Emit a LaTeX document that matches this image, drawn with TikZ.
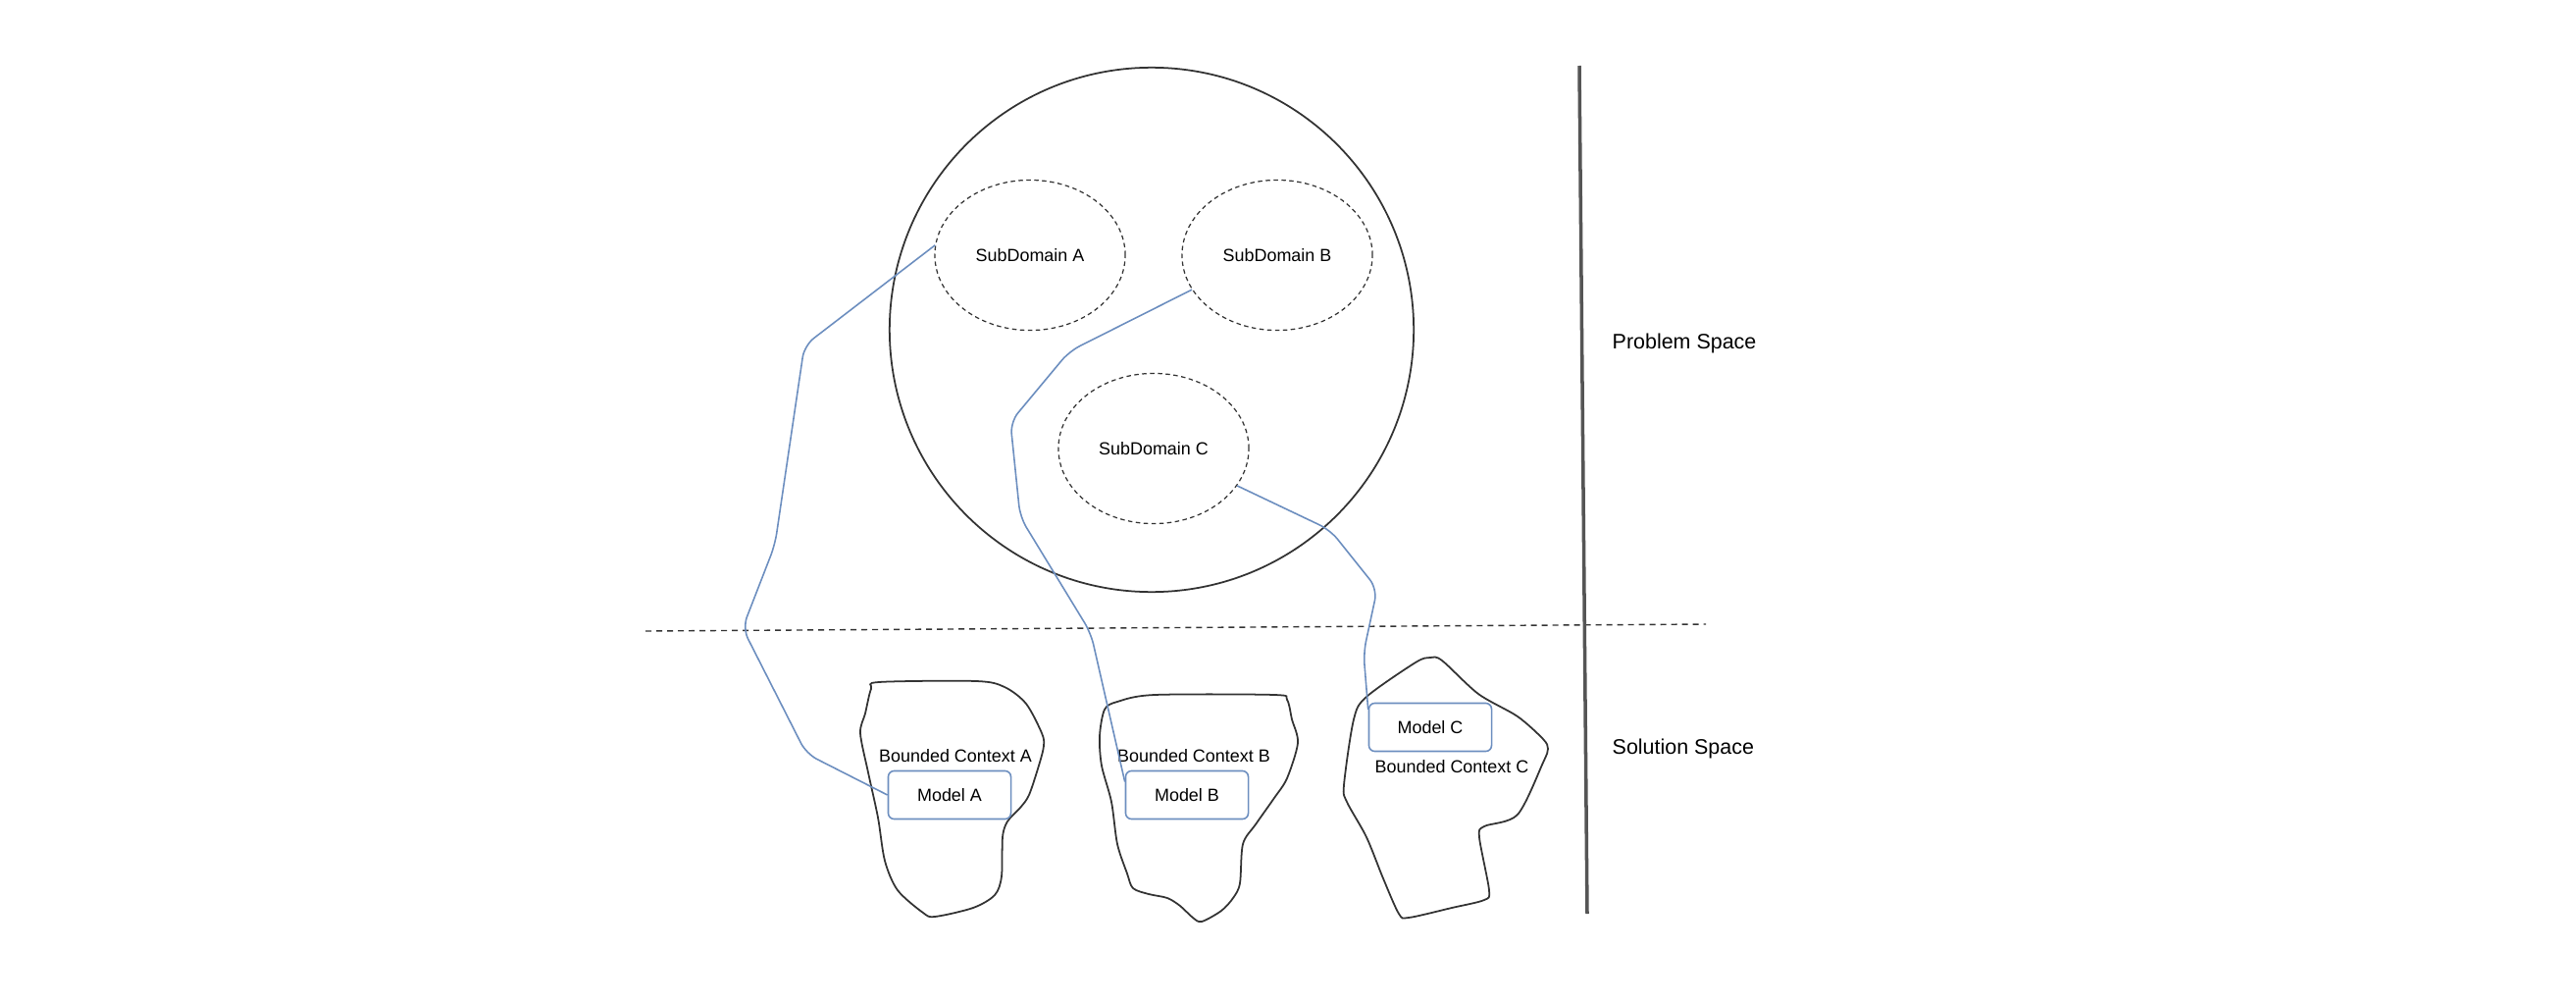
\documentclass[tikz,border=0pt]{standalone}
\usepackage{fontspec}
\setmainfont{Liberation Sans}
\usetikzlibrary{shapes.geometric,positioning,calc}
\definecolor{modblue}{HTML}{6C8EBF}
\definecolor{inkgray}{HTML}{333333}
\definecolor{railgray}{HTML}{555555}
\tikzset{
  subdom/.style={ellipse, draw=inkgray, line width=0.35pt, dash pattern=on 0.045cm off 0.035cm,
                 minimum width=1.94cm, minimum height=1.53cm, inner sep=0pt, font=\fontsize{5.1}{6}\selectfont},
  modelbox/.style={rectangle, rounded corners=0.6mm, draw=modblue, line width=0.45pt,
                   minimum width=1.25cm, minimum height=0.49cm, inner sep=0pt, font=\fontsize{5.1}{6}\selectfont},
  ctx/.style={inner sep=0pt, font=\fontsize{5.1}{6}\selectfont},
  spacelbl/.style={anchor=west, inner sep=0pt, font=\fontsize{6.1}{7}\selectfont},
  blob/.style={draw=inkgray, line width=0.5pt},
  conn/.style={draw=modblue, line width=0.45pt, rounded corners=1.2mm},
}

\begin{document}
\begin{tikzpicture}[x=0.01cm, y=-0.01cm]
    \useasboundingbox (0,0) rectangle (2626,1024);
    % problem space
    \node[circle, draw=inkgray, line width=0.5pt, minimum size=5.34cm] (dom) at (1174,336) {};
    \node[subdom] (sa) at (1050,260) {SubDomain A};
    \node[subdom] (sb) at (1302,260) {SubDomain B};
    \node[subdom] (sc) at (1176,457) {SubDomain C};
    % separators
    \coordinate (hl) at (658,643); \coordinate (hr) at (1739,636);
    \coordinate (vt) at (1610,67); \coordinate (vb) at (1618,931);
    \draw[draw=inkgray, line width=0.4pt, dash pattern=on 0.06cm off 0.05cm] (hl) -- (hr);
    \draw[draw=railgray, line width=1pt] (vt) -- (vb);
    \node[spacelbl] (ps) at (1643,350) {Problem Space};
    \node[spacelbl] (ss) at (1643,763) {Solution Space};
    % bounded contexts
    \draw[blob] plot[smooth cycle, tension=0.5] coordinates {(896,695) (995,694) (1024,700) (1046,717)
      (1062,747) (1064,760) (1059,780) (1049,810) (1040,823) (1027,837) (1022,853) (1021,893) (1014,912)
      (992,925) (953,934) (941,930) (915,907) (902,877) (895,833) (885,787) (877,747) (882,727) (888,702)};
    \draw[blob] plot[smooth cycle, tension=0.5] coordinates {(1139,715) (1177,708) (1299,708) (1312,713)
      (1317,733) (1323,757) (1312,793) (1299,813) (1280,840) (1267,860) (1264,900) (1257,915) (1245,928)
      (1225,939) (1216,935) (1203,923) (1190,915) (1171,911) (1155,905) (1149,890) (1139,860) (1133,817)
      (1123,780) (1121,750) (1126,723)};
    \draw[blob] plot[smooth cycle, tension=0.5] coordinates {(1458,670) (1470,673) (1507,707) (1547,730)
      (1573,753) (1578,763) (1573,777) (1547,830) (1513,842) (1508,853) (1518,907) (1513,917) (1480,925)
      (1436,935) (1426,931) (1410,895) (1393,853) (1373,817) (1370,800) (1380,733) (1393,710) (1443,675)};
    \node[ctx] (bca) at (974,770) {Bounded Context A};
    \node[ctx] (bcb) at (1217,770) {Bounded Context B};
    \node[ctx] (bcc) at (1480,781) {Bounded Context C};
    \node[modelbox] (ma) at (968,810) {Model A};
    \node[modelbox] (mb) at (1210,810) {Model B};
    \node[modelbox] (mc) at (1458,741) {Model C};
    % links subdomain -> model
    \draw[conn] (sa.174) -- (820,352) -- (790,555) -- (757,640) -- (822,768) -- (ma.west);
    \draw[conn] (sb.202) -- (1090,358) -- (1030,430) -- (1040,527) -- (1112,645) -- (mb.168);
    \draw[conn] (sc.336) -- (1356,540) -- (1404,600) -- (1390,665) -- (mc.164);
\end{tikzpicture}
\end{document}
